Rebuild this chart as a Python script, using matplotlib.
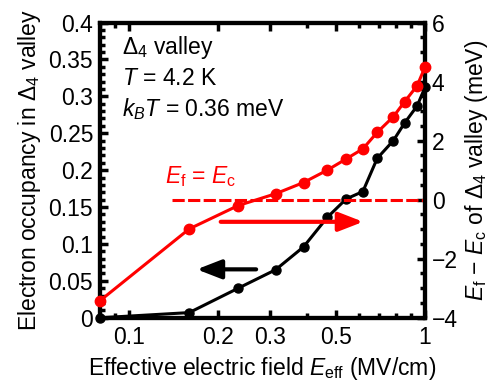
import numpy as np
import matplotlib
matplotlib.use('Agg')
import matplotlib.pyplot as plt
from matplotlib.ticker import FixedLocator, MultipleLocator, NullFormatter, FormatStrFormatter

plt.rcParams['font.family'] = 'Liberation Sans'
plt.rcParams['font.size'] = 16.5
plt.rcParams['mathtext.fontset'] = 'custom'
plt.rcParams['mathtext.rm'] = 'Liberation Sans'
plt.rcParams['mathtext.it'] = 'Liberation Sans:italic'

# effective field (MV/cm)
e_eff = [0.08, 0.16, 0.234, 0.313, 0.389, 0.468, 0.542, 0.617, 0.69, 0.782, 0.854, 0.941, 1.0]
# electron occupancy in Delta4 valley (left axis)
occupancy = [0.0, 0.007, 0.040, 0.065, 0.096, 0.136, 0.161, 0.171, 0.216, 0.240, 0.264, 0.287, 0.312]
# Ef - Ec of Delta4 valley in meV (right axis)
ef_minus_ec = [-3.42, -0.99, -0.2, 0.2, 0.58, 1.0, 1.38, 1.72, 2.28, 2.81, 3.32, 3.86, 4.49]

x_ticks = [0.1, 0.2, 0.3, 0.5, 1]
x_ticklabels = ['0.1', '0.2', '0.3', '0.5', '1']

fig = plt.figure(figsize=(4.93, 3.88), dpi=100)
ax = fig.add_axes([0.203, 0.181, 0.659, 0.761])
ax2 = ax.twinx()

ax.plot(e_eff, occupancy, '-o', color='black', lw=2.2, ms=6.5, clip_on=False, zorder=5)
ax2.plot(e_eff, ef_minus_ec, '-o', color='red', lw=2.2, ms=7.5, clip_on=False, zorder=5)
ax2.plot([0.14, 1.0], [0, 0], color='red', lw=2.2, linestyle=(0, (4, 1.1)))

ax.set_xscale('log')
ax.set_xlim(0.08, 1.0)
ax.set_ylim(0, 0.4)
ax2.set_ylim(-4, 6)

ax.xaxis.set_major_locator(FixedLocator(x_ticks))
ax.set_xticklabels(x_ticklabels)
minor = [0.08, 0.09] + [0.1 * k for k in range(2, 10)]
ax.xaxis.set_minor_locator(FixedLocator(minor))
ax.xaxis.set_minor_formatter(NullFormatter())

ax.yaxis.set_major_locator(MultipleLocator(0.05))
ax.yaxis.set_minor_locator(MultipleLocator(0.01))
ax.yaxis.set_major_formatter(FormatStrFormatter('%g'))
ax2.yaxis.set_major_locator(MultipleLocator(2))
ax2.yaxis.set_minor_locator(MultipleLocator(0.5))

for a in (ax, ax2):
    for s in a.spines.values():
        s.set_linewidth(3)
    a.tick_params(which='major', direction='in', length=6, width=2.5, pad=5)
    a.tick_params(which='minor', direction='in', length=3.5, width=2.5)
ax.tick_params(which='both', top=True)
ax.tick_params(axis='x', which='major', pad=6)

ax.set_xlabel(r'Effective electric field $E_{\rm eff}$ (MV/cm)', labelpad=4)
ax.set_ylabel(r'Electron occupancy in $\Delta_4$ valley', labelpad=4)
ax2.set_ylabel(r'$E_{\rm f}$ $-$ $E_{\rm c}$ of $\Delta_4$ valley (meV)', labelpad=4)

ax.text(0.067, 0.96, r'$\Delta_4$ valley' + '\n' + r'$T$ = 4.2 K' + '\n' + r'$k_B T$ = 0.36 meV',
        transform=ax.transAxes, va='top', ha='left', linespacing=1.3)
ax.text(0.2, 0.478, r'$E_{\rm f}$ = $E_{\rm c}$', color='red', transform=ax.transAxes,
        va='center', ha='left')

ax2.annotate('', xy=(0.632, -0.75), xytext=(0.2, -0.75),
             arrowprops=dict(arrowstyle='-|>,head_length=0.9,head_width=0.35', color='red', lw=3))
ax.annotate('', xy=(0.166, 0.0656), xytext=(0.275, 0.0656),
            arrowprops=dict(arrowstyle='-|>,head_length=0.9,head_width=0.35', color='black', lw=3))

plt.savefig('out.png', dpi=100)
